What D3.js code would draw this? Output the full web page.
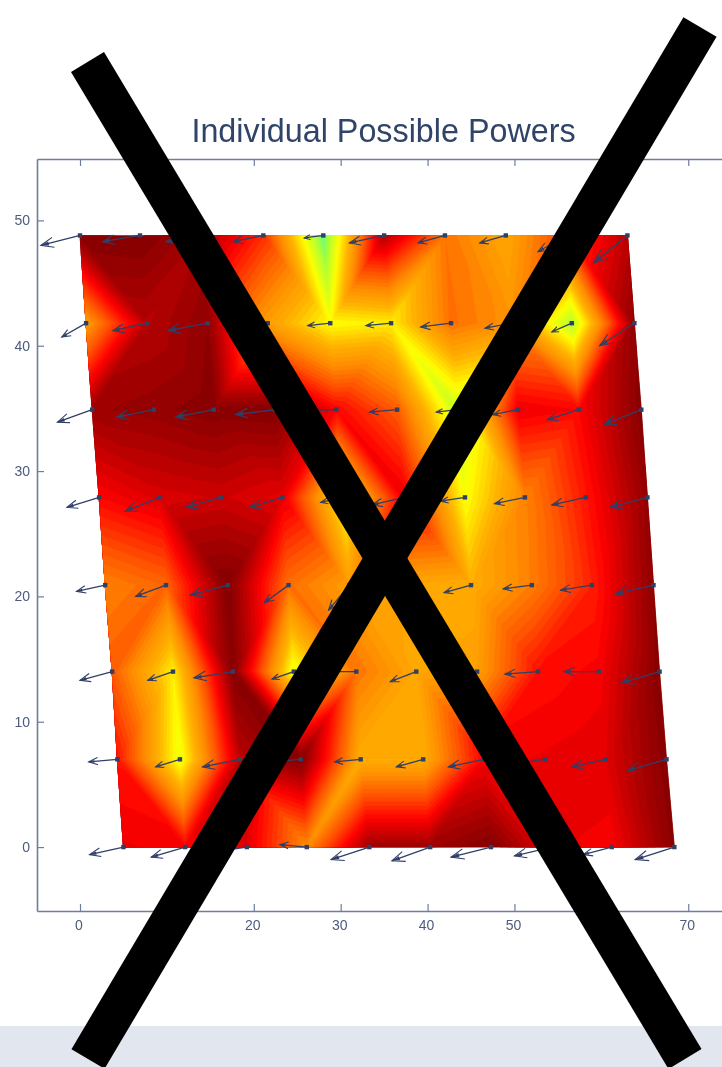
<!DOCTYPE html>
<html>
<head>
<meta charset="utf-8" />
<title>Individual Possible Powers</title>
<script src="https://cdn.jsdelivr.net/npm/d3@7"></script>
<style>
  html, body { margin: 0; padding: 0; background: #fff; }
  svg { display: block; }
  text { font-family: "Liberation Sans", Arial, sans-serif; }
</style>
</head>
<body>
<svg id="chart" width="722" height="1067"></svg>
<script>

const titleText = "Individual Possible Powers";
const xTicks = [0, 10, 20, 30, 40, 50, 60, 70];
const yTicks = [0, 10, 20, 30, 40, 50];

// y of each row of the grid, bottom to top
const rowY = [0, 7, 14, 20.9, 27.9, 34.9, 41.8, 48.8];

// x of each grid point, same row order
const gridX = [
  [5.0, 12.1, 19.2, 26.1, 33.3, 40.3, 47.3, 54.3, 61.2, 68.4],
  [4.3, 11.5, 18.4, 25.4, 32.3, 39.5, 46.5, 53.5, 60.5, 67.5],
  [3.7, 10.7, 17.6, 24.6, 31.8, 38.7, 45.7, 52.7, 59.7, 66.7],
  [2.9, 9.9, 17.0, 24.0, 31.0, 38.0, 45.0, 52.0, 58.9, 66.0],
  [2.2, 9.2, 16.2, 23.3, 30.3, 37.3, 44.3, 51.2, 58.2, 65.3],
  [1.4, 8.5, 15.4, 22.4, 29.5, 36.5, 43.4, 50.4, 57.4, 64.6],
  [0.7, 7.7, 14.7, 21.6, 28.8, 35.8, 42.7, 49.7, 56.6, 63.8],
  [0, 6.9, 14.0, 21.1, 28.0, 35.0, 42.0, 49.0, 56.0, 63.0]
];

// heat value at each grid point (0 = maroon, 100 = green)
const power = [
  [22, 24, 20, 50, 8, 8, 2, 22, 24, 4],
  [28, 78, 14, 2, 60, 60, 24, 22, 20, 3],
  [40, 72, 3, 78, 45, 58, 55, 27, 24, 3],
  [48, 42, 2, 44, 55, 58, 60, 47, 30, 5],
  [25, 19, 17, 21, 75, 22, 76, 48, 28, 6],
  [8, 6, 3, 2, 25, 40, 85, 22, 25, 3],
  [55, 13, 5, 55, 75, 72, 44, 52, 88, 6],
  [3, 2, 10, 32, 97, 12, 45, 58, 35, 14]
];

// quads whose diagonal goes against the alternating pattern [row, col]
const flippedQuads = [[6, 3], [6, 4], [2, 3], [2, 2], [1, 3], [1, 2], [2, 1], [2, 0]];

// arrow components, same layout
const arrowU = [
  [-3.9, -3.9, -4.0, -3.1, -4.4, -4.4, -4.6, -4.3, -3.3, -4.5],
  [-3.3, -2.8, -4.3, -3.6, -3.0, -3.1, -4.1, -4.0, -3.9, -4.5],
  [-3.7, -2.9, -4.5, -2.5, -4.1, -3.0, -3.7, -3.8, -4.0, -4.4],
  [-3.3, -3.5, -4.3, -2.8, -2.4, -2.9, -3.1, -3.3, -3.6, -4.4],
  [-3.7, -4.0, -4.0, -3.8, -2.6, -3.7, -2.8, -3.5, -3.9, -4.3],
  [-4.0, -4.3, -4.4, -4.5, -4.6, -3.2, -2.4, -2.9, -3.6, -4.3],
  [-2.8, -3.9, -4.6, -4.1, -2.6, -2.9, -3.5, -3.1, -2.3, -4.0],
  [-4.5, -4.3, -4.1, -3.5, -2.2, -4.0, -3.1, -3.0, -3.3, -3.9]
];
const arrowV = [
  [-0.6, -0.8, -0.4, 0.2, -1.0, -1.1, -0.8, -0.7, -0.6, -1.0],
  [-0.2, -0.6, -0.6, -0.2, -0.2, -0.6, -0.6, -0.4, -0.6, -0.9],
  [-0.7, -0.7, -0.5, -0.6, 0, -0.8, -0.2, -0.2, 0, -0.9],
  [-0.5, -0.9, -0.8, -1.4, -2.0, -0.4, -0.6, -0.3, -0.4, -0.7],
  [-0.8, -1.1, -0.8, -0.8, -0.4, -0.6, -0.3, -0.5, -0.6, -0.8],
  [-1.0, -0.6, -0.6, -0.4, -0.1, -0.2, -0.2, -0.4, -0.8, -1.2],
  [-1.1, -0.6, -0.6, -0.3, -0.2, -0.2, -0.3, -0.4, -0.7, -1.8],
  [-0.8, -0.5, -0.5, -0.5, -0.2, -0.6, -0.6, -0.6, -1.3, -2.2]
];

const svg = d3.select("#chart");

const x = d3.scaleLinear().domain([-4.95, 74]).range([37, 723]);
const y = d3.scaleLinear().domain([-5.1, 54.9]).range([911, 159]);

const color = d3.scaleLinear()
  .domain([0, 12, 25, 38, 50, 62, 75, 88, 100])
  .range(["#780000", "#b00000", "#ff0000", "#ff5000", "#ff8c00", "#ffb400", "#ffff00", "#b4ff30", "#50ff90"]);

const step = 2.5;
const levels = d3.range(0, 100, step);

// light band at the foot of the page
svg.append("rect")
  .attr("x", 0).attr("y", 1026).attr("width", 722).attr("height", 41)
  .attr("fill", "#e2e6ef");

const plot = svg.append("g").style("filter", "blur(0.4px)");

// part of a triangle where value >= lev
function clipAbove(tri, lev) {
  const out = [];
  tri.forEach((p, i) => {
    const q = tri[(i + 1) % tri.length];
    if (p.v >= lev) out.push(p);
    if ((p.v >= lev) !== (q.v >= lev)) {
      const t = (lev - p.v) / (q.v - p.v);
      out.push({ x: p.x + t * (q.x - p.x), y: p.y + t * (q.y - p.y), v: lev });
    }
  });
  return out;
}

const node = (r, c) => ({ x: gridX[r][c], y: rowY[r], v: power[r][c] });
const isFlipped = (r, c) => flippedQuads.some(q => q[0] === r && q[1] === c);

const triangles = [];
d3.range(rowY.length - 1).forEach(r => {
  d3.range(gridX[0].length - 1).forEach(c => {
    const a = node(r, c), b = node(r, c + 1), d = node(r + 1, c), e = node(r + 1, c + 1);
    if (((r + c) % 2 === 1) !== isFlipped(r, c)) {
      triangles.push([a, b, e], [a, e, d]);
    } else {
      triangles.push([a, b, d], [b, e, d]);
    }
  });
});

const polyLine = d3.line().x(d => x(d.x)).y(d => y(d.y)).curve(d3.curveLinearClosed);

// one path per level so the higher bands paint over the seams of the lower ones
const heat = plot.append("g");
levels.forEach(lev => {
  let dd = "";
  triangles.forEach(tri => {
    const part = clipAbove(tri, lev);
    if (part.length >= 3) dd += polyLine(part);
  });
  if (!dd) return;
  const col = color(lev + step / 2);
  heat.append("path")
    .attr("d", dd)
    .attr("fill", col)
    .attr("stroke", col)
    .attr("stroke-width", 0.5)
    .attr("stroke-linejoin", "round");
});

// axes
const axisColor = "#6f7d9c", labelColor = "#4c5b7e";
const xAxis = plot.append("g").attr("transform", "translate(0," + y(-5.1) + ")")
  .call(d3.axisBottom(x).tickValues(xTicks).tickSizeInner(-7).tickSizeOuter(0).tickPadding(9));
const xTop = plot.append("g").attr("transform", "translate(0," + y(54.9) + ")")
  .call(d3.axisTop(x).tickValues(xTicks).tickSizeInner(-7).tickSizeOuter(0).tickFormat(""));
const yAxis = plot.append("g").attr("transform", "translate(" + x(-4.95) + ",0)")
  .call(d3.axisLeft(y).tickValues(yTicks).tickSizeInner(-7).tickSizeOuter(0).tickPadding(7));

[xAxis, xTop, yAxis].forEach(g => {
  g.select(".domain").attr("stroke", axisColor).attr("stroke-width", 1.6);
  g.selectAll(".tick line").attr("stroke", axisColor).attr("stroke-width", 1.2);
  g.selectAll(".tick text")
    .attr("fill", labelColor)
    .style("font-family", "'Liberation Sans', Arial, sans-serif")
    .style("font-size", "14px");
});
xAxis.selectAll(".tick text").attr("dx", -1.5);

// arrows
const arrowColor = "#2f3f66";
const arrows = plot.append("g");
rowY.forEach((ry, r) => {
  gridX[r].forEach((gx, c) => {
    const x0 = x(gx), y0 = y(ry);
    const x1 = x(gx + arrowU[r][c]), y1 = y(ry + arrowV[r][c]);
    const len = Math.hypot(x1 - x0, y1 - y0);
    const ang = Math.atan2(y1 - y0, x1 - x0);
    const barb = len * 0.34, spread = 0.38;
    const bx = s => x1 - barb * Math.cos(ang + s * spread);
    const by = s => y1 - barb * Math.sin(ang + s * spread);
    const tx = s => x1 - barb * 0.6 * Math.cos(ang + s * 0.25);
    const ty = s => y1 - barb * 0.6 * Math.sin(ang + s * 0.25);

    arrows.append("line")
      .attr("x1", x0).attr("y1", y0).attr("x2", x1).attr("y2", y1)
      .attr("stroke", arrowColor).attr("stroke-width", 1.3);
    arrows.append("path")
      .attr("d", "M" + bx(1) + "," + by(1) + "L" + x1 + "," + y1 + "L" + bx(-1) + "," + by(-1))
      .attr("fill", "none").attr("stroke", arrowColor).attr("stroke-width", 1.1);
    // small filled tip
    arrows.append("path")
      .attr("d", "M" + tx(1) + "," + ty(1) + "L" + x1 + "," + y1 + "L" + tx(-1) + "," + ty(-1) + "Z")
      .attr("fill", arrowColor);
    arrows.append("rect")
      .attr("x", x0 - 2.2).attr("y", y0 - 2.2).attr("width", 4.4).attr("height", 4.4)
      .attr("fill", arrowColor);
  });
});

svg.append("text")
  .attr("x", 383.5).attr("y", 142)
  .attr("text-anchor", "middle")
  .attr("fill", "#2f4468")
  .style("font-size", "32.3px")
  .style("filter", "blur(0.3px)")
  .text(titleText);

// the big cross over everything
const crossArms = [
  [[87.5, 62], [685, 1059]],
  [[700, 27], [88, 1059]]
];
svg.append("g").selectAll("line")
  .data(crossArms)
  .join("line")
  .attr("x1", d => d[0][0]).attr("y1", d => d[0][1])
  .attr("x2", d => d[1][0]).attr("y2", d => d[1][1])
  .attr("stroke", "#000")
  .attr("stroke-width", 38.5);

</script>
</body>
</html>
